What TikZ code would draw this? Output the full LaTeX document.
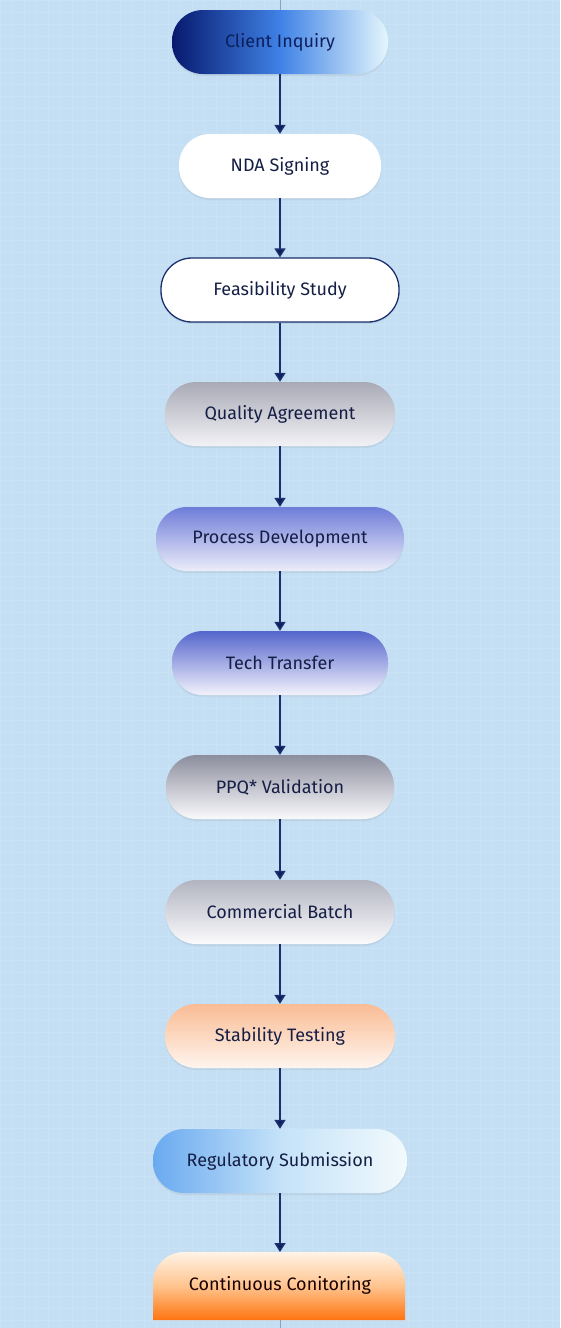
\documentclass[tikz,border=0pt]{standalone}
\usepackage{fontspec}
\setmainfont{Fira Sans}
\usetikzlibrary{arrows.meta,shadows}
\definecolor{bg}{HTML}{C4DEF4}
\definecolor{gridc}{HTML}{CAE2F6}
\definecolor{navy}{HTML}{1A2F6E}
\definecolor{tip}{HTML}{0D1F5C}
\definecolor{txt}{HTML}{151E45}
\definecolor{ciL}{HTML}{07196E}
\definecolor{ciM}{HTML}{3F82E6}
\definecolor{ciR}{HTML}{E4F6FC}
\definecolor{qaT}{HTML}{A9AAB6}
\definecolor{qaB}{HTML}{F2F2F6}
\definecolor{pdT}{HTML}{6E7DD8}
\definecolor{pdB}{HTML}{ECEDFA}
\definecolor{ttT}{HTML}{5566CC}
\definecolor{ttB}{HTML}{F2F2FC}
\definecolor{pqT}{HTML}{8C8E9E}
\definecolor{pqB}{HTML}{FAFAFC}
\definecolor{cbT}{HTML}{B2B4C0}
\definecolor{cbB}{HTML}{FBFBFD}
\definecolor{stT}{HTML}{F9BC94}
\definecolor{stB}{HTML}{FFF5EE}
\definecolor{rsL}{HTML}{6AAAF0}
\definecolor{rsM}{HTML}{C4E2F8}
\definecolor{rsR}{HTML}{F2FAFC}
\definecolor{ccT}{HTML}{FFF3E6}
\definecolor{ccM}{HTML}{FFC48E}
\definecolor{ccB}{HTML}{FF7410}
\tikzset{
  stage/.style={rectangle, rounded corners=31pt, minimum height=64pt, inner sep=0pt,
    font=\fontsize{18}{21}\selectfont, text=txt,
    drop shadow={shadow xshift=0pt, shadow yshift=-2pt, opacity=0.12}},
  flow/.style={draw=navy, line width=1.6pt, -{Triangle[width=11pt,length=9pt,fill=tip]}},
}
\begin{document}
\begin{tikzpicture}[x=1pt,y=1pt]
\useasboundingbox (0,0) rectangle (560,-1328);
\fill[bg] (0,0) rectangle (560,-1328);
\draw[gridc, line width=0.4pt] (0,0) grid[step=12pt] (560,-1328);
\coordinate (top) at (280,0);
\coordinate (bot) at (280,-1328);

\node[stage, minimum width=216pt, left color=ciL, right color=ciR, middle color=ciM, text=tip] (n1) at (280,-42) {Client Inquiry};
\node[stage, minimum width=202pt, fill=white] (n2) at (280,-166) {NDA Signing};
\node[stage, minimum width=238pt, fill=white, draw=navy, line width=1.3pt] (n3) at (280,-290) {Feasibility Study};
\node[stage, minimum width=230pt, top color=qaT, bottom color=qaB] (n4) at (280,-414) {Quality Agreement};
\node[stage, minimum width=248pt, top color=pdT, bottom color=pdB] (n5) at (280,-539) {Process Development};
\node[stage, minimum width=216pt, top color=ttT, bottom color=ttB] (n6) at (280,-663) {Tech Transfer};
\node[stage, minimum width=228pt, top color=pqT, bottom color=pqB] (n7) at (280,-787) {PPQ* Validation};
\node[stage, minimum width=229pt, top color=cbT, bottom color=cbB] (n8) at (280,-912) {Commercial Batch};
\node[stage, minimum width=230pt, top color=stT, bottom color=stB] (n9) at (280,-1036) {Stability Testing};
\node[stage, minimum width=254pt, left color=rsL, right color=rsR, middle color=rsM] (n10) at (280,-1161) {Regulatory Submission};

% last stage: rounded top only, cut at the bottom
\shade[top color=ccT, bottom color=ccB, middle color=ccM]
  (153,-1320) -- (153,-1283) arc[start angle=180,end angle=90,radius=31]
  -- (374,-1252) arc[start angle=90,end angle=0,radius=31] -- (405,-1320) -- cycle;
\coordinate (n11top) at (280,-1252);
\coordinate (n11bot) at (280,-1320);
\node[font=\fontsize{18}{21}\selectfont, text=black!90!red] (n11) at (280,-1285) {Continuous Conitoring};

\draw[navy!35!bg, line width=1pt] (top) -- (n1.north);
\draw[flow] (n1) -- (n2);
\draw[flow] (n2) -- (n3);
\draw[flow] (n3) -- (n4);
\draw[flow] (n4) -- (n5);
\draw[flow] (n5) -- (n6);
\draw[flow] (n6) -- (n7);
\draw[flow] (n7) -- (n8);
\draw[flow] (n8) -- (n9);
\draw[flow] (n9) -- (n10);
\draw[flow] (n10) -- (n11top);
\draw[navy!35!bg, line width=1pt] (n11bot) -- (bot);
\end{tikzpicture}
\end{document}
